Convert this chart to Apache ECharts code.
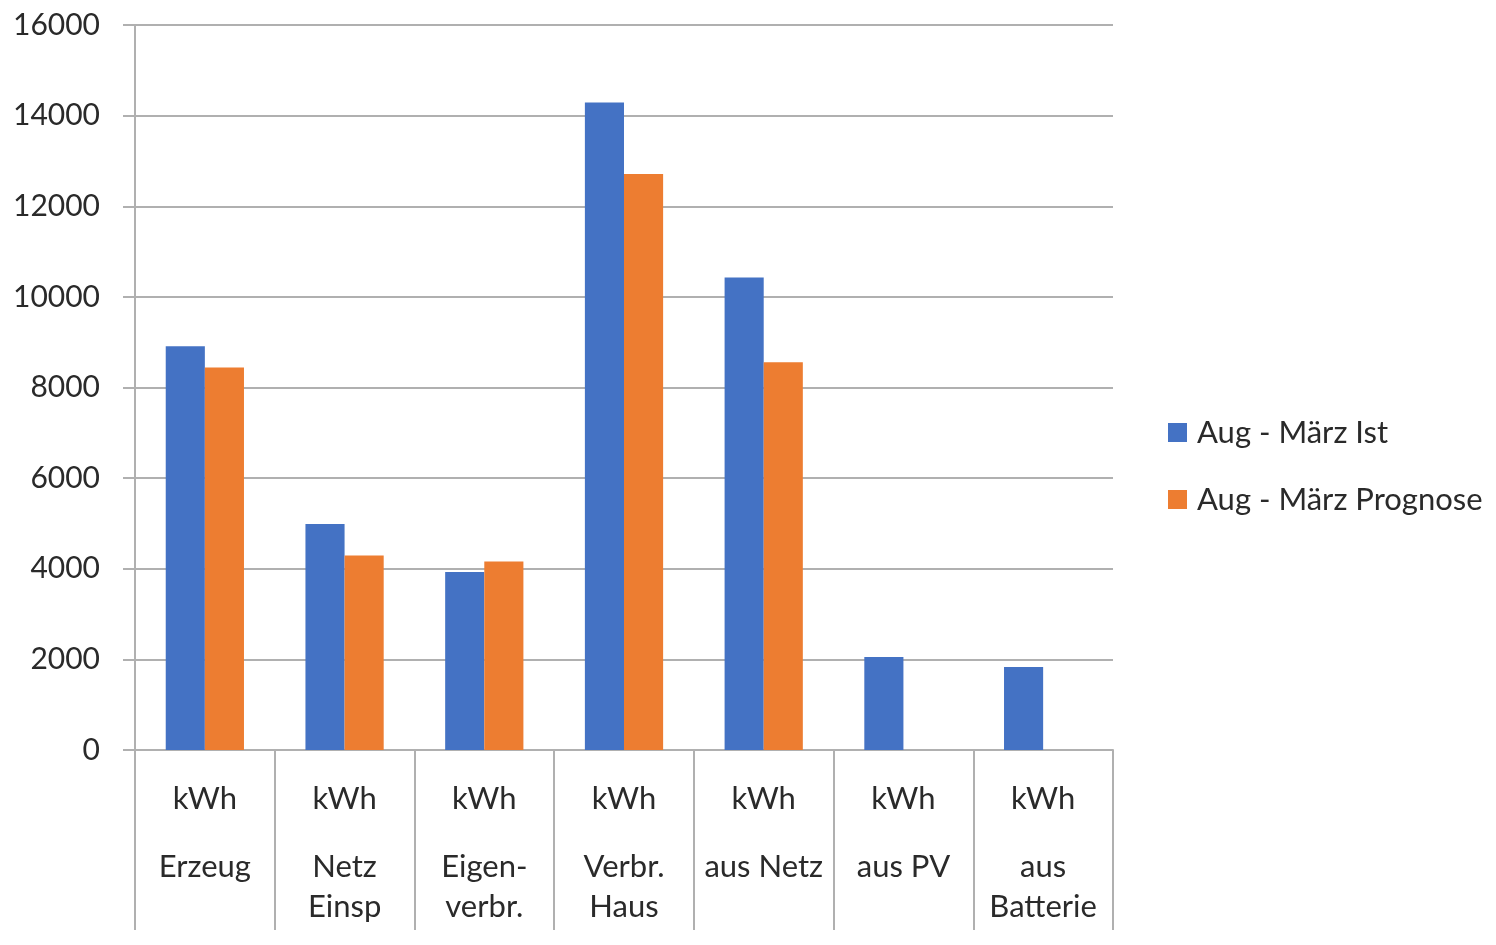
<!DOCTYPE html>
<html>
<head>
<meta charset="utf-8">
<script src="https://cdn.jsdelivr.net/npm/echarts@6/dist/echarts.min.js"></script>
<style>
  html, body { margin: 0; padding: 0; background: #fff; }
  #chart { width: 1496px; height: 945px; }
</style>
</head>
<body>
<div id="chart"></div>
<script>
var categories = ['Erzeug', 'Netz\nEinsp', 'Eigen-\nverbr.', 'Verbr.\nHaus', 'aus Netz', 'aus PV', 'aus\nBatterie'];
var unitLabel = 'kWh';
var istValues = [8910, 4990, 3930, 14290, 10430, 2050, 1830];
var prognoseValues = [8440, 4290, 4160, 12710, 8560, null, null];
var seriesNames = ['Aug - März Ist', 'Aug - März Prognose'];
var yTicks = { min: 0, max: 16000, interval: 2000 };

var textColor = '#2a2a2a';
var lineColor = '#b0b0b0';
var fontFamily = 'Lato, "Open Sans", sans-serif';

var dom = document.getElementById('chart');
var myChart = echarts.init(dom);

var option = {
    animation: false,
    backgroundColor: '#fff',
    textStyle: { fontFamily: fontFamily },
    grid: {
        left: 135,
        right: 383,
        top: 25,
        bottom: 195
    },
    legend: {
        orient: 'vertical',
        left: 1168,
        top: 417,
        padding: 0,
        icon: 'rect',
        itemWidth: 19,
        itemHeight: 19,
        itemGap: 36,
        textStyle: {
            fontSize: 31,
            color: textColor,
            fontFamily: fontFamily,
            padding: [0, 0, 0, 5]
        },
        data: seriesNames
    },
    xAxis: {
        type: 'category',
        data: categories,
        axisLine: { lineStyle: { color: lineColor, width: 2 } },
        axisTick: {
            show: true,
            length: 180,
            interval: 0,
            lineStyle: { color: lineColor, width: 2 }
        },
        axisLabel: {
            interval: 0,
            margin: 0,
            verticalAlign: 'top',
            formatter: function (value) {
                var lines = value.split('\n');
                var s = '{u|' + unitLabel + '}';
                for (var i = 0; i < lines.length; i++) {
                    s += '\n{n|' + lines[i] + '}';
                }
                return s;
            },
            rich: {
                u: { fontSize: 31, lineHeight: 97, color: textColor, fontFamily: fontFamily },
                n: { fontSize: 31, lineHeight: 40, color: textColor, fontFamily: fontFamily }
            }
        }
    },
    yAxis: {
        type: 'value',
        min: yTicks.min,
        max: yTicks.max,
        interval: yTicks.interval,
        axisLine: { show: true, lineStyle: { color: lineColor, width: 2 } },
        axisTick: { show: true, length: 12, lineStyle: { color: lineColor, width: 2 } },
        axisLabel: {
            margin: 35,
            fontSize: 30,
            color: textColor,
            fontFamily: fontFamily,
            formatter: function (v) { return String(v); }
        },
        splitLine: { lineStyle: { color: lineColor, width: 2 } }
    },
    series: [
        {
            name: seriesNames[0],
            type: 'bar',
            barGap: '0%',
            barCategoryGap: '44%',
            itemStyle: { color: '#4472C4' },
            data: istValues
        },
        {
            name: seriesNames[1],
            type: 'bar',
            barGap: '0%',
            barCategoryGap: '44%',
            itemStyle: { color: '#ED7D31' },
            data: prognoseValues
        }
    ]
};

if (option && typeof option === "object") {
    myChart.setOption(option, true);
}
</script>
</body>
</html>
